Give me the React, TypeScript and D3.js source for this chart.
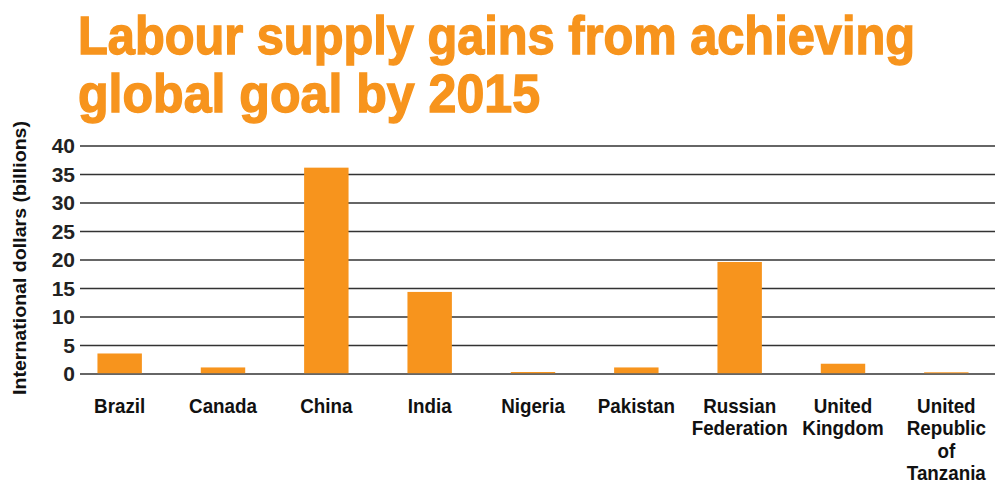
import React from 'react';
import * as d3 from 'd3';

const width = 995;
const height = 484;
const margin = { top: 146, right: 0, bottom: 110, left: 80 };

const titleLines = ['Labour supply gains from achieving', 'global goal by 2015'];
const titleWidths = [837, 462];
const yLabel = 'International dollars (billions)';
const categories = ['Brazil', 'Canada', 'China', 'India', 'Nigeria', 'Pakistan', 'Russian Federation', 'United Kingdom', 'United Republic of Tanzania'];
const labelLines = [['Brazil'], ['Canada'], ['China'], ['India'], ['Nigeria'], ['Pakistan'], ['Russian', 'Federation'], ['United', 'Kingdom'], ['United', 'Republic', 'of', 'Tanzania']];
const values = [3.6, 1.15, 36.2, 14.4, 0.35, 1.15, 19.65, 1.8, 0.3];
const yTicks = [0, 5, 10, 15, 20, 25, 30, 35, 40];

const orange = '#F7941D';
const font = '"Liberation Sans", Arial, sans-serif';

export default function App() {
  const y = d3.scaleLinear().domain([0, 40]).range([374, margin.top]);
  const x = d3.scaleBand<string>()
    .domain(categories)
    .range([68, 998])
    .paddingInner(0.57)
    .paddingOuter(0.285);

  return (
    <svg width={width} height={height} style={{ display: 'block', position: 'absolute', left: 0, top: 0 }}>
      {titleLines.map((t, i) => (
        <text key={t} x={78} y={54 + i * 58} fill={orange} stroke={orange} strokeWidth={1.4}
          fontFamily={font} fontWeight="bold" fontSize={53}
          textLength={titleWidths[i]} lengthAdjust="spacingAndGlyphs">{t}</text>
      ))}
      <text
        transform={`translate(26,${258}) rotate(-90)`}
        textAnchor="middle"
        fontFamily={font}
        fontWeight="bold"
        fontSize={19}
        fill="#111"
        textLength={274}
        lengthAdjust="spacingAndGlyphs"
      >{yLabel}</text>
      {yTicks.map((t) => (
        <g key={t}>
          <line x1={margin.left} x2={width} y1={y(t)} y2={y(t)} stroke="#333" strokeWidth={1.6} />
          <text x={75} y={y(t) + 7} textAnchor="end" fontFamily={font} fontWeight="bold" fontSize={21} fill="#222">{t}</text>
        </g>
      ))}
      {categories.map((c, i) => (
        <rect key={c} x={x(c)} width={x.bandwidth()} y={y(values[i])} height={y(0) - y(values[i]) - 0.8} fill={orange} />
      ))}
      {categories.map((c, i) => (
        <g key={c} transform={`translate(${(x(c) as number) + x.bandwidth() / 2},0) scale(0.94,1)`}>
          <text textAnchor="middle" fontFamily={font} fontWeight="bold" fontSize={20} fill="#111">
            {labelLines[i].map((l, j) => (
              <tspan key={j} x={0} y={413 + j * 22.4}>{l}</tspan>
            ))}
          </text>
        </g>
      ))}
    </svg>
  );
}
